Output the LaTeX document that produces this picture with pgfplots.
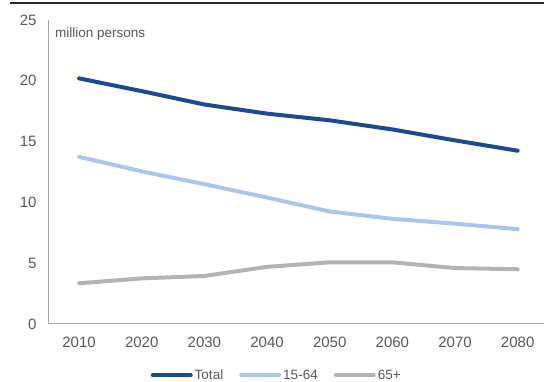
\documentclass[border=0pt]{standalone}
\usepackage{pgfplots}
\pgfplotsset{compat=1.18}
\usepackage{fontspec}
\setmainfont{Liberation Sans}
\definecolor{cTotal}{HTML}{1B4A8F}
\definecolor{cWork}{HTML}{A7C8EB}
\definecolor{cOld}{HTML}{B4B4B4}
\definecolor{cAxis}{HTML}{A6A6A6}
\definecolor{cText}{HTML}{595959}
\begin{document}
\begin{tikzpicture}[x=1pt,y=1pt]
\path[use as bounding box] (-49,-58) rectangle (495,324);
\draw[black!85, line width=1.2pt] (-39,321) -- (495,321);
\begin{axis}[
  scale only axis,
  width=495pt, height=304pt,
  xmin=-0.48, xmax=7.42,
  ymin=0, ymax=25,
  xtick={0,1,2,3,4,5,6,7},
  xticklabels={2010,2020,2030,2040,2050,2060,2070,2080},
  ytick={0,5,10,15,20,25},
  axis x line*=bottom, axis y line*=left,
  axis line style={cAxis, line width=1pt},
  x axis line style={-}, y axis line style={-},
  major tick length=0pt,
  tick label style={font=\fontsize{15}{15}\selectfont, text=cText},
  /pgf/number format/assume math mode=true,
  xticklabel style={yshift=-9pt},
  yticklabel style={xshift=-9pt},
  legend style={draw=none, fill=none, at={(0.46,-0.168)}, anchor=center,
    font=\fontsize{13.5}{13.5}\selectfont, text=cText,
    /tikz/every even column/.append style={column sep=14pt},
    inner sep=0pt},
  legend columns=3,
  legend image code/.code={\draw[#1, line cap=round] (0pt,0pt) -- (38pt,0pt);},
  clip=false,
]
\addplot[cTotal, line width=4pt, line join=round, line cap=round] coordinates {
 (0,20.2) (1,19.15) (2,18.05) (3,17.3) (4,16.75) (5,16.0) (6,15.1) (7,14.25)};
\addlegendentry{Total}
\addplot[cWork, line width=4pt, line join=round, line cap=round] coordinates {
 (0,13.75) (1,12.55) (2,11.5) (3,10.4) (4,9.25) (5,8.65) (6,8.25) (7,7.8)};
\addlegendentry{15-64}
\addplot[cOld, line width=4pt, line join=round, line cap=round] coordinates {
 (0,3.35) (1,3.75) (2,3.95) (3,4.7) (4,5.07) (5,5.07) (6,4.6) (7,4.5)};
\addlegendentry{65+}
\node[anchor=west, text=cText, font=\fontsize{13.5}{13.5}\selectfont, inner sep=0pt] at (rel axis cs:0.012,0.955) {million persons};
\end{axis}
\end{tikzpicture}
\end{document}
